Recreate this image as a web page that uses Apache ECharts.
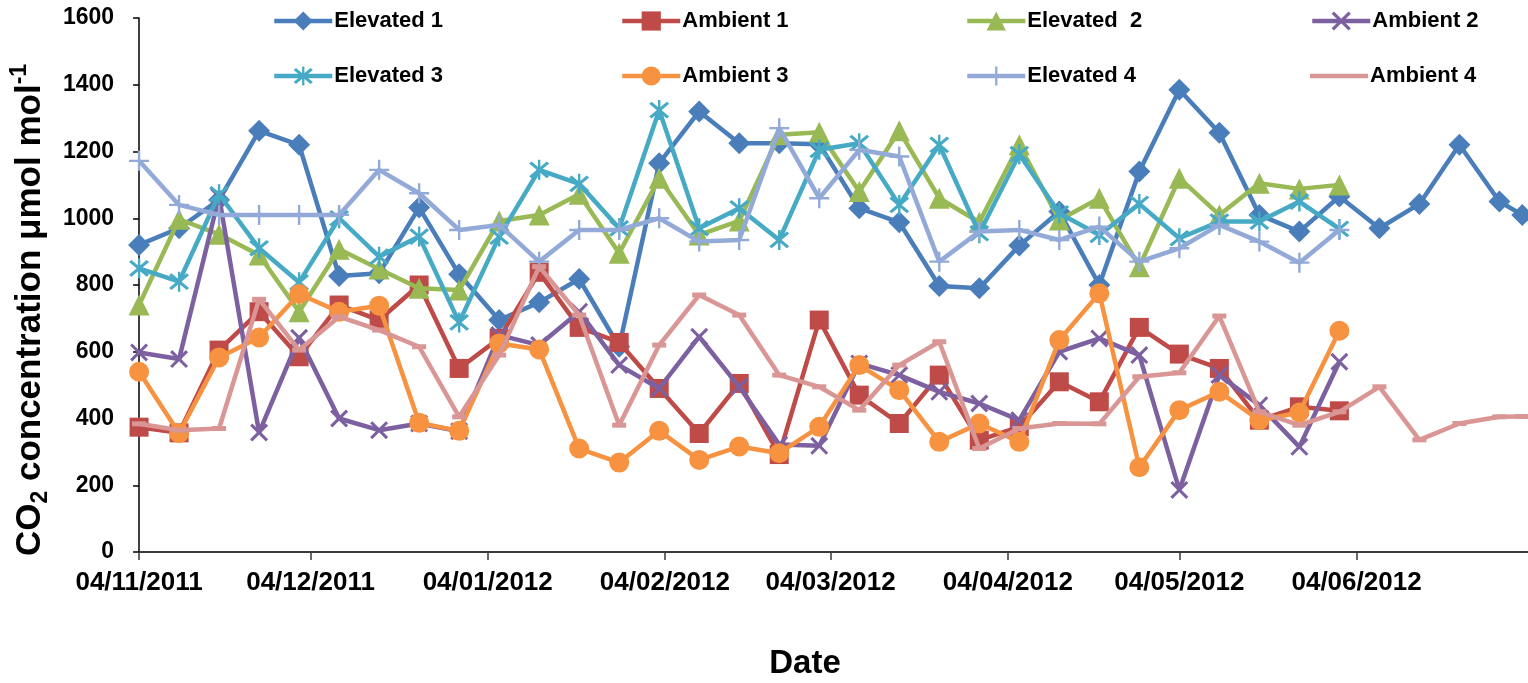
<!DOCTYPE html>
<html>
<head>
<meta charset="utf-8">
<title>CO2 concentration</title>
<script src="https://cdn.jsdelivr.net/npm/echarts@6/dist/echarts.min.js"></script>
<style>
  html, body { margin: 0; padding: 0; background: #fff; }
  #chart { width: 1528px; height: 683px; }
</style>
</head>
<body>
<div id="chart"></div>
<script>
// Weekly sampling dates (last reading a few days after the final week)
const dates = [
  '2011-11-04', '2011-11-11', '2011-11-18', '2011-11-25', '2011-12-02', '2011-12-09',
  '2011-12-16', '2011-12-23', '2011-12-30', '2012-01-06', '2012-01-13', '2012-01-20',
  '2012-01-27', '2012-02-03', '2012-02-10', '2012-02-17', '2012-02-24', '2012-03-02',
  '2012-03-09', '2012-03-16', '2012-03-23', '2012-03-30', '2012-04-06', '2012-04-13',
  '2012-04-20', '2012-04-27', '2012-05-04', '2012-05-11', '2012-05-18', '2012-05-25',
  '2012-06-01', '2012-06-08', '2012-06-15', '2012-06-22', '2012-06-29', '2012-07-03'
];

// CO2 concentration (µmol mol-1) per chamber
const elevated1 = [920, 970, 1055, 1262, 1220, 827, 835, 1032, 832, 695, 748, 818,
  615, 1165, 1320, 1225, 1225, 1222, 1030, 988, 797, 790, 918, 1020,
  800, 1140, 1385, 1256, 1010, 960, 1065, 970, 1043, 1220, 1050, 1010];
const ambient1 = [374, 357, 605, 720, 585, 740, 695, 800, 550, 640, 838, 673,
  628, 490, 355, 505, 292, 695, 470, 385, 530, 335, 375, 510,
  450, 673, 593, 550, 395, 435, 423];
const elevated2 = [740, 997, 952, 890, 720, 907, 848, 790, 785, 992, 1010, 1072,
  895, 1120, 950, 992, 1250, 1258, 1080, 1262, 1060, 988, 1220, 995,
  1060, 855, 1120, 1010, 1105, 1088, 1100];
const ambient2 = [598, 578, 1065, 358, 642, 400, 365, 385, 362, 650, 620, 720,
  560, 490, 645, 495, 322, 318, 565, 530, 480, 445, 395, 600,
  640, 590, 186, 530, 440, 315, 570];
const elevated3 = [850, 810, 1072, 910, 808, 1000, 885, 945, 688, 945, 1145, 1103,
  970, 1324, 970, 1030, 935, 1205, 1225, 1040, 1220, 955, 1192, 1015,
  950, 1043, 940, 990, 990, 1050, 968];
const ambient3 = [540, 356, 583, 643, 773, 720, 738, 387, 363, 625, 607, 310,
  268, 363, 276, 316, 296, 375, 560, 485, 330, 385, 330, 635,
  775, 254, 425, 480, 395, 418, 663];
const elevated4 = [1172, 1040, 1010, 1010, 1010, 1010, 1145, 1075, 965, 980, 870, 965,
  965, 1000, 930, 935, 1270, 1060, 1205, 1185, 870, 960, 965, 935,
  975, 870, 910, 980, 930, 867, 965];
const ambient4 = [384, 365, 370, 757, 605, 705, 665, 615, 405, 590, 855, 710,
  380, 620, 770, 710, 530, 495, 425, 560, 630, 310, 370, 385,
  384, 525, 537, 707, 420, 380, 420, 495, 336, 385, 405, 406];

const seriesNames = ['Elevated 1', 'Ambient 1', 'Elevated  2', 'Ambient 2',
                     'Elevated 3', 'Ambient 3', 'Elevated 4', 'Ambient 4'];
const seriesValues = [elevated1, ambient1, elevated2, ambient2,
                      elevated3, ambient3, elevated4, ambient4];

// Month ticks on the date axis
const tickDates = ['2011-11-04', '2011-12-04', '2012-01-04', '2012-02-04',
                   '2012-03-04', '2012-04-04', '2012-05-04', '2012-06-04'];
const axisStart = '2011-11-04';
const axisEnd = '2012-07-04';
const yTicks = { min: 0, max: 1600, step: 200 };

const FONT = "'Liberation Sans', Arial, sans-serif";

// Marker shapes
const SYM_X = 'path://M0,1.2 L1.2,0 L10,8.8 L8.8,10 Z M8.8,0 L10,1.2 L1.2,10 L0,8.8 Z';
const SYM_STAR = 'path://M0,1.2 L1.2,0 L10,8.8 L8.8,10 Z M8.8,0 L10,1.2 L1.2,10 L0,8.8 Z M4.4,-1 L5.6,-1 L5.6,11 L4.4,11 Z';
const SYM_PLUS = 'path://M4.4,0 L5.6,0 L5.6,10 L4.4,10 Z M0,4.4 L10,4.4 L10,5.6 L0,5.6 Z';
const SYM_DASH = 'path://M0,0 L10,0 L10,3 L0,3 Z';
// Legend key for the dash-marker series: just the thick line
const KEY_LINE = 'path://M0,0 L58,0 L58,4.5 L0,4.5 Z';

const styles = [
  { color: '#4A7EBB', symbol: 'diamond', size: 22 },
  { color: '#BE4B48', symbol: 'rect', size: 19 },
  { color: '#98B954', symbol: 'triangle', size: 21 },
  { color: '#7D60A0', symbol: SYM_X, size: 18 },
  { color: '#46AAC5', symbol: SYM_STAR, size: 20 },
  { color: '#F69240', symbol: 'circle', size: 20 },
  { color: '#93AAD8', symbol: SYM_PLUS, size: 20 },
  { color: '#D99694', symbol: SYM_DASH, size: [14, 5] }
];

const t = s => Date.parse(s);
const pad = n => (n < 10 ? '0' : '') + n;
const fmtDate = v => {
  const d = new Date(v);
  return pad(d.getUTCDate()) + '/' + pad(d.getUTCMonth() + 1) + '/' + d.getUTCFullYear();
};

const series = seriesNames.map((name, i) => ({
  name: name,
  type: 'line',
  data: seriesValues[i].map((v, j) => [t(dates[j]), v]),
  symbol: styles[i].symbol,
  symbolSize: styles[i].size,
  symbolKeepAspect: false,
  showAllSymbol: true,
  color: styles[i].color,
  lineStyle: { color: styles[i].color, width: 4.5 },
  itemStyle: { color: styles[i].color, borderWidth: 0 },
  emphasis: { disabled: true },
  z: 2 + i
}));

// One legend block per entry: 4 columns x 2 rows
const legendCols = [272, 620, 965, 1310];
const legendRows = [10, 65];
const legends = seriesNames.map((name, i) => ({
  data: [typeof styles[i].size === 'number' ? name : { name: name, icon: KEY_LINE }],
  left: legendCols[i % 4],
  top: legendRows[Math.floor(i / 4)],
  itemWidth: 58,
  itemHeight: 24,
  padding: 0,
  selectedMode: false,
  symbolKeepAspect: true,
  lineStyle: { width: 4.5 },
  textStyle: { fontFamily: FONT, fontSize: 22, fontWeight: 'bold', color: '#000', padding: [0, 0, 0, -3] }
}));

const chart = echarts.init(document.getElementById('chart'), null, { renderer: 'canvas' });
chart.setOption({
  animation: false,
  backgroundColor: '#fff',
  textStyle: { fontFamily: FONT },
  title: {
    text: 'Date',
    left: 805,
    top: 647,
    textAlign: 'center',
    padding: 0,
    textStyle: { fontFamily: FONT, fontSize: 33, fontWeight: 'bold', color: '#000' }
  },
  legend: legends,
  grid: { left: 138, right: -3, top: 18, bottom: 131, containLabel: false },
  xAxis: {
    type: 'value',
    min: t(axisStart),
    max: t(axisEnd),
    axisLine: { show: true, lineStyle: { color: '#3a3a3a', width: 2 } },
    axisTick: { show: true, length: 8, lineStyle: { color: '#3a3a3a', width: 1.5 },
                customValues: tickDates.map(t) },
    axisLabel: {
      customValues: tickDates.map(t),
      formatter: fmtDate,
      margin: 18,
      fontFamily: FONT, fontSize: 26, fontWeight: 'bold', color: '#000'
    },
    splitLine: { show: false }
  },
  yAxis: {
    type: 'value',
    min: yTicks.min,
    max: yTicks.max,
    interval: yTicks.step,
    axisLine: { show: true, lineStyle: { color: '#000', width: 1.5 } },
    axisTick: { show: true, inside: false, length: 6, lineStyle: { color: '#000', width: 1.5 } },
    axisLabel: { margin: 25, formatter: v => String(v),
                 fontFamily: FONT, fontSize: 23, fontWeight: 'bold', color: '#000' },
    splitLine: { show: false },
    name: '{b|CO}{s|2}{b| concentration μmol mol}{p|-1}',
    nameLocation: 'middle',
    nameRotate: 90,
    nameGap: 79,
    nameTextStyle: {
      padding: [0, 50, 0, 0],
      rich: {
        b: { fontFamily: FONT, fontSize: 35, fontWeight: 'bold', color: '#000', lineHeight: 44 },
        s: { fontFamily: FONT, fontSize: 23, fontWeight: 'bold', color: '#000', lineHeight: 24, verticalAlign: 'bottom' },
        p: { fontFamily: FONT, fontSize: 23, fontWeight: 'bold', color: '#000', lineHeight: 24, verticalAlign: 'top' }
      }
    }
  },
  series: series
});
</script>
</body>
</html>
